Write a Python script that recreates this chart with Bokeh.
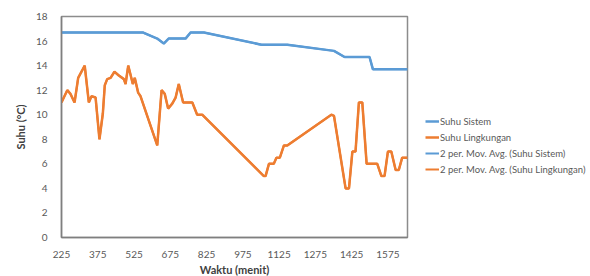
from bokeh.plotting import figure
from bokeh.models import Range1d, FixedTicker, Legend, LegendItem
from bokeh.embed import file_html
from bokeh.resources import INLINE

# Waktu (menit) and temperatures
waktu_sistem = [225, 561, 621, 648, 668, 738, 759, 814, 1052, 1159, 1352, 1396, 1499, 1513, 1656]
suhu_sistem = [16.7, 16.7, 16.2, 15.8, 16.2, 16.2, 16.7, 16.7, 15.7, 15.7, 15.2, 14.7, 14.7, 13.7, 13.7]

waktu_lingkungan = [225, 249, 262, 279, 294, 321, 338, 349, 366, 382, 396, 404, 414, 428, 444,
                    462, 483, 490, 501, 510, 520, 528, 542, 552, 621, 639, 652, 666, 683, 697,
                    710, 728, 766, 786, 807, 1062, 1069, 1083, 1103, 1114, 1128, 1145, 1159,
                    1341, 1352, 1400, 1414, 1428, 1441, 1455, 1469, 1487, 1531, 1548, 1561,
                    1575, 1589, 1607, 1620, 1634, 1656]
suhu_lingkungan = [11.0, 12.0, 11.7, 11.0, 13.0, 14.0, 11.0, 11.5, 11.4, 8.0, 10.1, 12.4, 12.9, 13.0, 13.5,
                   13.2, 12.9, 12.5, 14.0, 13.3, 12.5, 13.0, 11.8, 11.5, 7.5, 12.0, 11.7, 10.5, 10.9, 11.4,
                   12.5, 11.0, 11.0, 10.0, 10.0, 5.0, 5.0, 6.0, 6.0, 6.5, 6.5, 7.5, 7.5,
                   10.0, 9.9, 4.0, 4.0, 7.0, 7.0, 11.0, 11.0, 6.0, 6.0, 5.0, 5.0,
                   7.0, 7.0, 5.5, 5.5, 6.5, 6.5]

# the moving-average trendlines lie on top of the series in the picture
ma_sistem = suhu_sistem
ma_lingkungan = suhu_lingkungan

x_ticks = [225, 375, 525, 675, 825, 975, 1125, 1275, 1425, 1575]
y_ticks = [0, 2, 4, 6, 8, 10, 12, 14, 16, 18]

BLUE = "#5B9BD5"
ORANGE = "#ED7D31"
GREY_TEXT = "#595959"
FONT = "Lato"

p = figure(width=590, height=276, output_backend="svg", toolbar_location=None,
           x_range=Range1d(225, 1656), y_range=Range1d(0, 18),
           frame_width=346, frame_height=221,
           min_border_left=61, min_border_right=183, min_border_top=16, min_border_bottom=39)

p.background_fill_color = "white"
p.border_fill_color = "white"
p.outline_line_color = "#8c8c8c"
p.outline_line_width = 1.5
p.grid.visible = False

r1 = p.line(waktu_sistem, suhu_sistem, line_color=BLUE, line_width=2.5)
r2 = p.line(waktu_lingkungan, suhu_lingkungan, line_color=ORANGE, line_width=2.5)
r3 = p.line(waktu_sistem, ma_sistem, line_color=BLUE, line_width=2)
r4 = p.line(waktu_lingkungan, ma_lingkungan, line_color=ORANGE, line_width=2)

p.xaxis.ticker = FixedTicker(ticks=x_ticks)
p.yaxis.ticker = FixedTicker(ticks=y_ticks)
for ax in (p.xaxis[0], p.yaxis[0]):
    ax.axis_line_color = "#7f7f7f"
    ax.axis_line_width = 1.5
    ax.major_tick_line_color = None
    ax.minor_tick_line_color = None
    ax.major_label_text_color = GREY_TEXT
    ax.major_label_text_font = FONT
    ax.major_label_text_font_size = "10px"
    ax.axis_label_text_font = FONT
    ax.axis_label_text_font_style = "bold"
    ax.axis_label_text_font_size = "11px"
    ax.axis_label_text_color = "#404040"

p.xaxis.axis_label = "Waktu (menit)"
p.yaxis.axis_label = "Suhu (°C)"
p.xaxis.major_label_standoff = 7
p.yaxis.major_label_standoff = 8
p.xaxis.axis_label_standoff = 2
p.yaxis.axis_label_standoff = 6

legend = Legend(items=[
    LegendItem(label="Suhu Sistem", renderers=[r1]),
    LegendItem(label="Suhu Lingkungan", renderers=[r2]),
    LegendItem(label="2 per. Mov. Avg. (Suhu Sistem)", renderers=[r3]),
    LegendItem(label="2 per. Mov. Avg. (Suhu Lingkungan)", renderers=[r4]),
], location=(18, 60), orientation="vertical")
legend.background_fill_alpha = 0
legend.border_line_color = None
legend.padding = 0
legend.margin = 0
legend.spacing = 0
legend.glyph_width = 14
legend.glyph_height = 16
legend.label_height = 16
legend.label_standoff = 1
legend.label_text_font = FONT
legend.label_text_font_size = "9.5px"
legend.label_text_color = GREY_TEXT
p.add_layout(legend, "right")

open("out.html", "w").write(file_html(p, INLINE))
